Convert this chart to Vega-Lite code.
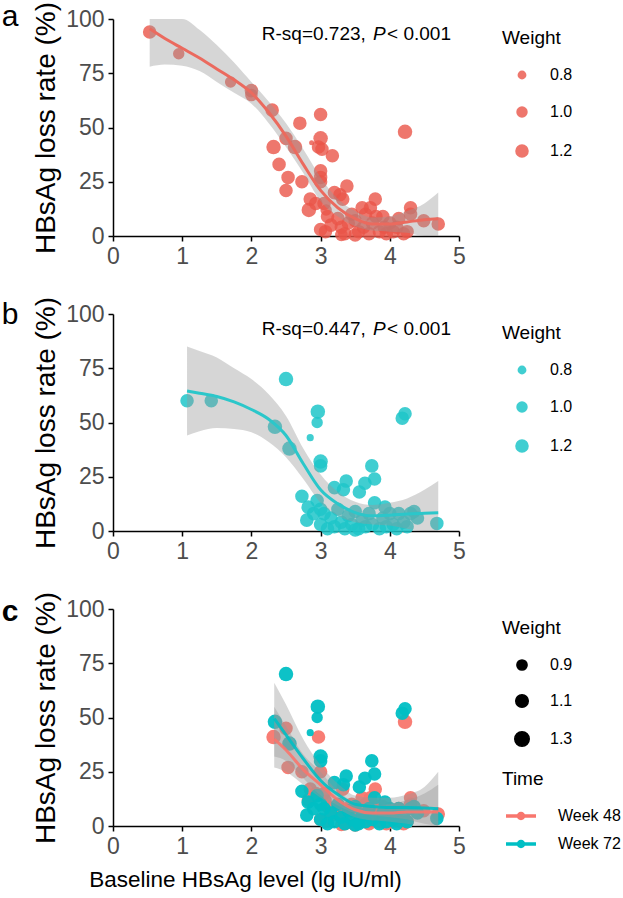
{
  "$schema": "https://vega.github.io/schema/vega-lite/v6.json",
  "background": "white",
  "padding": {"left": 1, "top": 1, "right": 5, "bottom": 5},
  "spacing": 28,
  "config": {
    "font": "Liberation Sans",
    "view": {"stroke": null},
    "axis": {"grid": false, "domainColor": "black", "domainWidth": 1.5, "tickColor": "black", "tickWidth": 1.5, "tickSize": 5, "labelFontSize": 23, "labelColor": "#4D4D4D", "labelPadding": 4, "labelFlush": false, "titleFontSize": 28, "titleFontWeight": "normal", "titleColor": "black", "titlePadding": 5},
    "legend": {"titleFontSize": 19, "titleFontWeight": "normal", "titleColor": "black", "labelFontSize": 16, "labelColor": "black", "rowPadding": 20, "titlePadding": 19, "offset": 33, "padding": 10, "symbolOffset": 12, "labelOffset": 20, "layout": {"right": {"direction": "vertical", "anchor": "start", "margin": 0}}},
    "title": {"fontSize": 30, "fontWeight": "normal", "color": "black", "anchor": "start", "frame": "bounds", "offset": 0}
  },
  "datasets": {
    "pts": [
      {"x": 0.53, "y": 94, "w": 1.2, "Time": "Week 48", "c": 0},
      {"x": 0.95, "y": 84, "w": 1.0, "Time": "Week 48", "c": 0},
      {"x": 1.7, "y": 71, "w": 1.0, "Time": "Week 48", "c": 0},
      {"x": 2.0, "y": 67, "w": 1.2, "Time": "Week 48", "c": 0},
      {"x": 2.0, "y": 65, "w": 1.1, "Time": "Week 48", "c": 0},
      {"x": 2.3, "y": 58, "w": 1.2, "Time": "Week 48", "c": 0},
      {"x": 2.32, "y": 41, "w": 1.3, "Time": "Week 48", "c": 1},
      {"x": 2.4, "y": 33, "w": 1.2, "Time": "Week 48", "c": 0},
      {"x": 2.5, "y": 45, "w": 1.2, "Time": "Week 48", "c": 1},
      {"x": 2.53, "y": 27, "w": 1.2, "Time": "Week 48", "c": 1},
      {"x": 2.5, "y": 21, "w": 1.2, "Time": "Week 48", "c": 0},
      {"x": 2.63, "y": 41, "w": 1.3, "Time": "Week 48", "c": 0},
      {"x": 2.7, "y": 52, "w": 1.2, "Time": "Week 48", "c": 0},
      {"x": 2.73, "y": 25, "w": 1.2, "Time": "Week 48", "c": 1},
      {"x": 2.87, "y": 43, "w": 0.6, "Time": "Week 48", "c": 0},
      {"x": 2.85, "y": 17, "w": 1.2, "Time": "Week 48", "c": 1},
      {"x": 2.83, "y": 12, "w": 1.3, "Time": "Week 48", "c": 1},
      {"x": 2.93, "y": 15, "w": 1.2, "Time": "Week 48", "c": 1},
      {"x": 3.0, "y": 56, "w": 1.2, "Time": "Week 48", "c": 0},
      {"x": 3.0, "y": 45, "w": 1.3, "Time": "Week 48", "c": 0},
      {"x": 2.97, "y": 41, "w": 1.2, "Time": "Week 48", "c": 1},
      {"x": 3.02, "y": 40, "w": 1.2, "Time": "Week 48", "c": 0},
      {"x": 3.0, "y": 30, "w": 1.2, "Time": "Week 48", "c": 0},
      {"x": 3.0, "y": 27, "w": 1.2, "Time": "Week 48", "c": 0},
      {"x": 3.0, "y": 25, "w": 1.2, "Time": "Week 48", "c": 1},
      {"x": 3.17, "y": 37, "w": 1.2, "Time": "Week 48", "c": 0},
      {"x": 3.38, "y": 23, "w": 1.2, "Time": "Week 48", "c": 0},
      {"x": 3.2, "y": 20, "w": 1.2, "Time": "Week 48", "c": 0},
      {"x": 3.28, "y": 19, "w": 1.2, "Time": "Week 48", "c": 0},
      {"x": 3.32, "y": 17, "w": 1.2, "Time": "Week 48", "c": 1},
      {"x": 4.22, "y": 48, "w": 1.3, "Time": "Week 48", "c": 1},
      {"x": 3.05, "y": 15, "w": 1.2, "Time": "Week 48", "c": 1},
      {"x": 3.1, "y": 9, "w": 1.2, "Time": "Week 48", "c": 1},
      {"x": 3.08, "y": 12, "w": 1.0, "Time": "Week 48", "c": 1},
      {"x": 3.0, "y": 3, "w": 1.2, "Time": "Week 48", "c": 1},
      {"x": 3.07, "y": 2, "w": 1.2, "Time": "Week 48", "c": 1},
      {"x": 3.15, "y": 5, "w": 1.2, "Time": "Week 48", "c": 1},
      {"x": 3.25, "y": 8, "w": 1.2, "Time": "Week 48", "c": 1},
      {"x": 3.3, "y": 4, "w": 1.2, "Time": "Week 48", "c": 1},
      {"x": 3.35, "y": 1, "w": 1.2, "Time": "Week 48", "c": 1},
      {"x": 3.4, "y": 6, "w": 1.2, "Time": "Week 48", "c": 1},
      {"x": 3.45, "y": 10, "w": 1.2, "Time": "Week 48", "c": 1},
      {"x": 3.5, "y": 7, "w": 1.2, "Time": "Week 48", "c": 1},
      {"x": 3.55, "y": 2, "w": 1.2, "Time": "Week 48", "c": 1},
      {"x": 3.6, "y": 13, "w": 1.2, "Time": "Week 48", "c": 1},
      {"x": 3.65, "y": 10, "w": 1.2, "Time": "Week 48", "c": 1},
      {"x": 3.62, "y": 4, "w": 1.2, "Time": "Week 48", "c": 1},
      {"x": 3.7, "y": 1, "w": 1.2, "Time": "Week 48", "c": 1},
      {"x": 3.72, "y": 13, "w": 1.2, "Time": "Week 48", "c": 1},
      {"x": 3.79, "y": 17, "w": 1.2, "Time": "Week 48", "c": 1},
      {"x": 3.75, "y": 6, "w": 1.2, "Time": "Week 48", "c": 1},
      {"x": 3.8, "y": 9, "w": 1.2, "Time": "Week 48", "c": 1},
      {"x": 3.85, "y": 2, "w": 1.2, "Time": "Week 48", "c": 1},
      {"x": 3.9, "y": 9, "w": 1.2, "Time": "Week 48", "c": 1},
      {"x": 3.92, "y": 4, "w": 1.2, "Time": "Week 48", "c": 1},
      {"x": 3.95, "y": 1, "w": 1.2, "Time": "Week 48", "c": 1},
      {"x": 4.0, "y": 6, "w": 1.2, "Time": "Week 48", "c": 1},
      {"x": 4.05, "y": 2, "w": 1.2, "Time": "Week 48", "c": 1},
      {"x": 4.1, "y": 4, "w": 1.2, "Time": "Week 48", "c": 1},
      {"x": 4.13, "y": 8, "w": 1.2, "Time": "Week 48", "c": 1},
      {"x": 4.2, "y": 1, "w": 1.2, "Time": "Week 48", "c": 1},
      {"x": 4.25, "y": 2, "w": 1.2, "Time": "Week 48", "c": 1},
      {"x": 4.3, "y": 13, "w": 1.2, "Time": "Week 48", "c": 1},
      {"x": 4.3, "y": 10, "w": 1.2, "Time": "Week 48", "c": 1},
      {"x": 4.49, "y": 7, "w": 1.2, "Time": "Week 48", "c": 1},
      {"x": 4.7, "y": 5.5, "w": 1.2, "Time": "Week 48", "c": 1},
      {"x": 3.5, "y": 0.5, "w": 1.2, "Time": "Week 48", "c": 1},
      {"x": 3.3, "y": 0.5, "w": 1.1, "Time": "Week 48", "c": 1},
      {"x": 1.07, "y": 60, "w": 1.2, "Time": "Week 72", "c": 0},
      {"x": 1.42, "y": 60, "w": 1.2, "Time": "Week 72", "c": 0},
      {"x": 2.34, "y": 48, "w": 1.3, "Time": "Week 72", "c": 1},
      {"x": 2.55, "y": 38, "w": 1.3, "Time": "Week 72", "c": 1},
      {"x": 2.5, "y": 70, "w": 1.3, "Time": "Week 72", "c": 1},
      {"x": 2.96, "y": 55, "w": 1.3, "Time": "Week 72", "c": 1},
      {"x": 2.95, "y": 50, "w": 1.0, "Time": "Week 72", "c": 1},
      {"x": 2.85, "y": 43, "w": 0.7, "Time": "Week 72", "c": 1},
      {"x": 3.0, "y": 32, "w": 1.3, "Time": "Week 72", "c": 1},
      {"x": 3.0, "y": 30, "w": 1.2, "Time": "Week 72", "c": 1},
      {"x": 2.73, "y": 16, "w": 1.2, "Time": "Week 72", "c": 1},
      {"x": 2.82, "y": 11, "w": 1.2, "Time": "Week 72", "c": 1},
      {"x": 2.8, "y": 5, "w": 1.2, "Time": "Week 72", "c": 1},
      {"x": 2.9, "y": 8, "w": 1.2, "Time": "Week 72", "c": 1},
      {"x": 2.95, "y": 14, "w": 1.2, "Time": "Week 72", "c": 1},
      {"x": 3.0, "y": 3, "w": 1.2, "Time": "Week 72", "c": 1},
      {"x": 3.05, "y": 8, "w": 1.2, "Time": "Week 72", "c": 1},
      {"x": 3.1, "y": 1, "w": 1.2, "Time": "Week 72", "c": 1},
      {"x": 3.2, "y": 20, "w": 1.2, "Time": "Week 72", "c": 1},
      {"x": 3.37, "y": 23, "w": 1.2, "Time": "Week 72", "c": 1},
      {"x": 3.33, "y": 19, "w": 1.2, "Time": "Week 72", "c": 1},
      {"x": 3.74, "y": 30, "w": 1.2, "Time": "Week 72", "c": 1},
      {"x": 3.78, "y": 24, "w": 1.2, "Time": "Week 72", "c": 1},
      {"x": 3.64, "y": 22, "w": 1.2, "Time": "Week 72", "c": 1},
      {"x": 3.56, "y": 18, "w": 1.2, "Time": "Week 72", "c": 1},
      {"x": 4.18, "y": 52, "w": 1.2, "Time": "Week 72", "c": 1},
      {"x": 4.22, "y": 54, "w": 1.2, "Time": "Week 72", "c": 1},
      {"x": 4.68, "y": 3.5, "w": 1.2, "Time": "Week 72", "c": 1},
      {"x": 4.4, "y": 6, "w": 1.2, "Time": "Week 72", "c": 1},
      {"x": 4.3, "y": 8, "w": 1.2, "Time": "Week 72", "c": 1},
      {"x": 3.78, "y": 13, "w": 1.2, "Time": "Week 72", "c": 1},
      {"x": 3.93, "y": 11, "w": 1.2, "Time": "Week 72", "c": 1},
      {"x": 4.13, "y": 8, "w": 1.2, "Time": "Week 72", "c": 1},
      {"x": 3.15, "y": 6, "w": 1.2, "Time": "Week 72", "c": 1},
      {"x": 3.2, "y": 2, "w": 1.2, "Time": "Week 72", "c": 1},
      {"x": 3.25, "y": 10, "w": 1.2, "Time": "Week 72", "c": 1},
      {"x": 3.3, "y": 4, "w": 1.2, "Time": "Week 72", "c": 1},
      {"x": 3.35, "y": 1, "w": 1.2, "Time": "Week 72", "c": 1},
      {"x": 3.4, "y": 7, "w": 1.2, "Time": "Week 72", "c": 1},
      {"x": 3.45, "y": 3, "w": 1.2, "Time": "Week 72", "c": 1},
      {"x": 3.5, "y": 9, "w": 1.2, "Time": "Week 72", "c": 1},
      {"x": 3.55, "y": 1, "w": 1.2, "Time": "Week 72", "c": 1},
      {"x": 3.6, "y": 5, "w": 1.2, "Time": "Week 72", "c": 1},
      {"x": 3.65, "y": 2, "w": 1.2, "Time": "Week 72", "c": 1},
      {"x": 3.7, "y": 8, "w": 1.2, "Time": "Week 72", "c": 1},
      {"x": 3.75, "y": 3, "w": 1.2, "Time": "Week 72", "c": 1},
      {"x": 3.85, "y": 1, "w": 1.2, "Time": "Week 72", "c": 1},
      {"x": 3.9, "y": 6, "w": 1.2, "Time": "Week 72", "c": 1},
      {"x": 3.95, "y": 2, "w": 1.2, "Time": "Week 72", "c": 1},
      {"x": 4.0, "y": 8, "w": 1.2, "Time": "Week 72", "c": 1},
      {"x": 4.05, "y": 3, "w": 1.2, "Time": "Week 72", "c": 1},
      {"x": 4.1, "y": 1, "w": 1.2, "Time": "Week 72", "c": 1},
      {"x": 4.2, "y": 4, "w": 1.2, "Time": "Week 72", "c": 1},
      {"x": 4.25, "y": 2, "w": 1.2, "Time": "Week 72", "c": 1},
      {"x": 4.35, "y": 9, "w": 1.2, "Time": "Week 72", "c": 1},
      {"x": 3.5, "y": 0.5, "w": 1.2, "Time": "Week 72", "c": 1},
      {"x": 3.0, "y": 10, "w": 1.2, "Time": "Week 72", "c": 1}
    ],
    "fit": [
      {"panel": "a", "Time": "Week 48", "x": 0.53, "fit": 95.5, "lo": 78, "hi": 100},
      {"panel": "a", "Time": "Week 48", "x": 0.75, "fit": 91, "lo": 79, "hi": 100},
      {"panel": "a", "Time": "Week 48", "x": 1.0, "fit": 86.5, "lo": 78.5, "hi": 100},
      {"panel": "a", "Time": "Week 48", "x": 1.25, "fit": 82, "lo": 76, "hi": 95},
      {"panel": "a", "Time": "Week 48", "x": 1.5, "fit": 77, "lo": 71, "hi": 88},
      {"panel": "a", "Time": "Week 48", "x": 1.75, "fit": 72, "lo": 66, "hi": 80},
      {"panel": "a", "Time": "Week 48", "x": 2.0, "fit": 66, "lo": 61, "hi": 71},
      {"panel": "a", "Time": "Week 48", "x": 2.25, "fit": 57, "lo": 52, "hi": 62},
      {"panel": "a", "Time": "Week 48", "x": 2.5, "fit": 46, "lo": 41, "hi": 52},
      {"panel": "a", "Time": "Week 48", "x": 2.75, "fit": 33, "lo": 29, "hi": 40},
      {"panel": "a", "Time": "Week 48", "x": 3.0, "fit": 21, "lo": 16, "hi": 27},
      {"panel": "a", "Time": "Week 48", "x": 3.25, "fit": 13, "lo": 9, "hi": 17},
      {"panel": "a", "Time": "Week 48", "x": 3.5, "fit": 8, "lo": 4.5, "hi": 11.5},
      {"panel": "a", "Time": "Week 48", "x": 3.75, "fit": 5.5, "lo": 2.5, "hi": 8.5},
      {"panel": "a", "Time": "Week 48", "x": 4.0, "fit": 5.5, "lo": 2, "hi": 9},
      {"panel": "a", "Time": "Week 48", "x": 4.25, "fit": 6.5, "lo": 1.5, "hi": 11.5},
      {"panel": "a", "Time": "Week 48", "x": 4.5, "fit": 7.5, "lo": 0, "hi": 15},
      {"panel": "a", "Time": "Week 48", "x": 4.7, "fit": 8, "lo": 0, "hi": 20},
      {"panel": "b", "Time": "Week 72", "x": 1.07, "fit": 64.5, "lo": 44, "hi": 85},
      {"panel": "b", "Time": "Week 72", "x": 1.25, "fit": 63.5, "lo": 46, "hi": 83},
      {"panel": "b", "Time": "Week 72", "x": 1.5, "fit": 62, "lo": 47.5, "hi": 80},
      {"panel": "b", "Time": "Week 72", "x": 1.75, "fit": 59.5, "lo": 47, "hi": 75},
      {"panel": "b", "Time": "Week 72", "x": 2.0, "fit": 56, "lo": 45.5, "hi": 70},
      {"panel": "b", "Time": "Week 72", "x": 2.25, "fit": 51.5, "lo": 41, "hi": 63},
      {"panel": "b", "Time": "Week 72", "x": 2.5, "fit": 44, "lo": 34, "hi": 53},
      {"panel": "b", "Time": "Week 72", "x": 2.75, "fit": 31, "lo": 24, "hi": 38},
      {"panel": "b", "Time": "Week 72", "x": 3.0, "fit": 19, "lo": 13, "hi": 26},
      {"panel": "b", "Time": "Week 72", "x": 3.25, "fit": 12.5, "lo": 7, "hi": 18},
      {"panel": "b", "Time": "Week 72", "x": 3.5, "fit": 8.5, "lo": 4, "hi": 13.5},
      {"panel": "b", "Time": "Week 72", "x": 3.75, "fit": 7, "lo": 3, "hi": 12},
      {"panel": "b", "Time": "Week 72", "x": 4.0, "fit": 7.3, "lo": 2.5, "hi": 13},
      {"panel": "b", "Time": "Week 72", "x": 4.25, "fit": 7.8, "lo": 1, "hi": 15},
      {"panel": "b", "Time": "Week 72", "x": 4.5, "fit": 8.2, "lo": 0, "hi": 19},
      {"panel": "b", "Time": "Week 72", "x": 4.7, "fit": 8.4, "lo": 0, "hi": 23},
      {"panel": "c", "Time": "Week 48", "x": 2.33, "fit": 40, "lo": 27, "hi": 55},
      {"panel": "c", "Time": "Week 48", "x": 2.5, "fit": 35, "lo": 25, "hi": 46},
      {"panel": "c", "Time": "Week 48", "x": 2.75, "fit": 26, "lo": 19, "hi": 33},
      {"panel": "c", "Time": "Week 48", "x": 3.0, "fit": 19, "lo": 13, "hi": 25},
      {"panel": "c", "Time": "Week 48", "x": 3.25, "fit": 12, "lo": 8, "hi": 16},
      {"panel": "c", "Time": "Week 48", "x": 3.5, "fit": 7.5, "lo": 4, "hi": 11},
      {"panel": "c", "Time": "Week 48", "x": 3.75, "fit": 6, "lo": 2.5, "hi": 9.5},
      {"panel": "c", "Time": "Week 48", "x": 4.0, "fit": 6, "lo": 2, "hi": 10},
      {"panel": "c", "Time": "Week 48", "x": 4.25, "fit": 6.5, "lo": 1, "hi": 12},
      {"panel": "c", "Time": "Week 48", "x": 4.5, "fit": 6.5, "lo": 0, "hi": 15},
      {"panel": "c", "Time": "Week 48", "x": 4.7, "fit": 6.5, "lo": 0, "hi": 19},
      {"panel": "c", "Time": "Week 72", "x": 2.33, "fit": 49.5, "lo": 32, "hi": 66},
      {"panel": "c", "Time": "Week 72", "x": 2.5, "fit": 42, "lo": 30, "hi": 56},
      {"panel": "c", "Time": "Week 72", "x": 2.75, "fit": 31, "lo": 22, "hi": 40},
      {"panel": "c", "Time": "Week 72", "x": 3.0, "fit": 21, "lo": 14, "hi": 28},
      {"panel": "c", "Time": "Week 72", "x": 3.25, "fit": 14.5, "lo": 9.5, "hi": 19.5},
      {"panel": "c", "Time": "Week 72", "x": 3.5, "fit": 10, "lo": 6, "hi": 14},
      {"panel": "c", "Time": "Week 72", "x": 3.75, "fit": 9, "lo": 5, "hi": 13},
      {"panel": "c", "Time": "Week 72", "x": 4.0, "fit": 8.5, "lo": 4, "hi": 13},
      {"panel": "c", "Time": "Week 72", "x": 4.25, "fit": 8.5, "lo": 3, "hi": 14.5},
      {"panel": "c", "Time": "Week 72", "x": 4.5, "fit": 8.3, "lo": 1, "hi": 18},
      {"panel": "c", "Time": "Week 72", "x": 4.7, "fit": 8, "lo": 0, "hi": 25}
    ]
  },
  "resolve": {
    "scale": {"x": "independent", "y": "independent", "size": "independent", "fill": "independent", "stroke": "independent"},
    "legend": {"size": "independent", "fill": "independent"}
  },
  "vconcat": [
    {
      "width": 346, "height": 217,
      "title": {"text": "a", "dx": -31, "dy": 35},
      "layer": [
        {
          "data": {"name": "pts"},
          "transform": [{"filter": "datum.Time === 'Week 48'"}],
          "mark": {"type": "circle", "color": "#EA5548", "opacity": 0.8},
          "encoding": {
            "x": {"field": "x", "type": "quantitative", "title": null, "scale": {"domain": [0, 5], "nice": false}, "axis": {"values": [0, 1, 2, 3, 4, 5], "format": "d"}},
            "y": {"field": "y", "type": "quantitative", "title": "HBsAg loss rate (%)", "scale": {"domain": [0, 100], "nice": false}, "axis": {"values": [0, 25, 50, 75, 100], "format": "d"}},
            "size": {"field": "w", "type": "quantitative", "scale": {"domain": [0.6, 1.3], "range": [25, 210]}, "legend": {"title": "Weight", "values": [0.8, 1.0, 1.2], "format": ".1f"}}
          }
        },
        {
          "data": {"name": "fit"},
          "transform": [{"filter": "datum.panel === 'a'"}],
          "mark": {"type": "area", "color": "#999999", "opacity": 0.4, "interpolate": "monotone"},
          "encoding": {
            "x": {"field": "x", "type": "quantitative", "title": null},
            "y": {"field": "lo", "type": "quantitative", "title": "HBsAg loss rate (%)"},
            "y2": {"field": "hi"}
          }
        },
        {
          "data": {"name": "fit"},
          "transform": [{"filter": "datum.panel === 'a'"}],
          "mark": {"type": "line", "color": "#EB6A5E", "strokeWidth": 3, "interpolate": "monotone"},
          "encoding": {
            "x": {"field": "x", "type": "quantitative", "title": null},
            "y": {"field": "fit", "type": "quantitative", "title": "HBsAg loss rate (%)"}
          }
        },
        {
          "data": {"values": [{}]},
          "mark": {"type": "text", "text": "R-sq=0.723,", "fontSize": 19, "align": "left", "baseline": "middle", "color": "black"},
          "encoding": {"x": {"datum": 2.15}, "y": {"datum": 93}}
        },
        {
          "data": {"values": [{}]},
          "mark": {"type": "text", "text": "P", "fontSize": 19, "fontStyle": "italic", "align": "left", "baseline": "middle", "color": "black"},
          "encoding": {"x": {"datum": 3.757}, "y": {"datum": 93}}
        },
        {
          "data": {"values": [{}]},
          "mark": {"type": "text", "text": "< 0.001", "fontSize": 19, "align": "left", "baseline": "middle", "color": "black"},
          "encoding": {"x": {"datum": 3.96}, "y": {"datum": 93}}
        }
      ]
    },
    {
      "width": 346, "height": 217,
      "title": {"text": "b", "dx": -31, "dy": 38},
      "layer": [
        {
          "data": {"name": "pts"},
          "transform": [{"filter": "datum.Time === 'Week 72'"}],
          "mark": {"type": "circle", "color": "#1FC6C9", "opacity": 0.85},
          "encoding": {
            "x": {"field": "x", "type": "quantitative", "title": null, "scale": {"domain": [0, 5], "nice": false}, "axis": {"values": [0, 1, 2, 3, 4, 5], "format": "d"}},
            "y": {"field": "y", "type": "quantitative", "title": "HBsAg loss rate (%)", "scale": {"domain": [0, 100], "nice": false}, "axis": {"values": [0, 25, 50, 75, 100], "format": "d"}},
            "size": {"field": "w", "type": "quantitative", "scale": {"domain": [0.6, 1.3], "range": [25, 210]}, "legend": {"title": "Weight", "values": [0.8, 1.0, 1.2], "format": ".1f"}}
          }
        },
        {
          "data": {"name": "fit"},
          "transform": [{"filter": "datum.panel === 'b'"}],
          "mark": {"type": "area", "color": "#999999", "opacity": 0.4, "interpolate": "monotone"},
          "encoding": {
            "x": {"field": "x", "type": "quantitative", "title": null},
            "y": {"field": "lo", "type": "quantitative", "title": "HBsAg loss rate (%)"},
            "y2": {"field": "hi"}
          }
        },
        {
          "data": {"name": "fit"},
          "transform": [{"filter": "datum.panel === 'b'"}],
          "mark": {"type": "line", "color": "#2BC7CA", "strokeWidth": 3, "interpolate": "monotone"},
          "encoding": {
            "x": {"field": "x", "type": "quantitative", "title": null},
            "y": {"field": "fit", "type": "quantitative", "title": "HBsAg loss rate (%)"}
          }
        },
        {
          "data": {"values": [{}]},
          "mark": {"type": "text", "text": "R-sq=0.447,", "fontSize": 19, "align": "left", "baseline": "middle", "color": "black"},
          "encoding": {"x": {"datum": 2.15}, "y": {"datum": 93}}
        },
        {
          "data": {"values": [{}]},
          "mark": {"type": "text", "text": "P", "fontSize": 19, "fontStyle": "italic", "align": "left", "baseline": "middle", "color": "black"},
          "encoding": {"x": {"datum": 3.757}, "y": {"datum": 93}}
        },
        {
          "data": {"values": [{}]},
          "mark": {"type": "text", "text": "< 0.001", "fontSize": 19, "align": "left", "baseline": "middle", "color": "black"},
          "encoding": {"x": {"datum": 3.96}, "y": {"datum": 93}}
        }
      ]
    },
    {
      "width": 346, "height": 217,
      "title": {"text": "c", "dx": -31, "dy": 40, "fontWeight": "bold"},
      "layer": [
        {
          "data": {"name": "pts"},
          "transform": [{"filter": "datum.c === 1"}],
          "mark": {"type": "circle", "opacity": 0.95},
          "encoding": {
            "x": {"field": "x", "type": "quantitative", "title": "Baseline HBsAg level (lg IU/ml)", "scale": {"domain": [0, 5], "nice": false}, "axis": {"values": [0, 1, 2, 3, 4, 5], "format": "d", "titleFontSize": 22.5, "titlePadding": 10, "titleX": 132}},
            "y": {"field": "y", "type": "quantitative", "title": "HBsAg loss rate (%)", "scale": {"domain": [0, 100], "nice": false}, "axis": {"values": [0, 25, 50, 75, 100], "format": "d"}},
            "size": {"field": "w", "type": "quantitative", "scale": {"domain": [0.6, 1.3], "range": [25, 210]}, "legend": {"title": "Weight", "values": [0.9, 1.1, 1.3], "format": ".1f", "symbolFillColor": "black", "symbolStrokeColor": "black", "symbolOpacity": 1, "rowPadding": 17}},
            "fill": {"field": "Time", "type": "nominal", "scale": {"domain": ["Week 48", "Week 72"], "range": ["#F8766D", "#00BFC4"]}, "legend": {"title": "Time", "symbolType": "M-1,-0.12H1V0.12H-1Z M-0.28,0A0.28,0.28 0 1,1 0.28,0A0.28,0.28 0 1,1 -0.28,0Z", "symbolSize": 900, "symbolStrokeWidth": 0, "symbolOpacity": 1, "symbolOffset": 4, "labelOffset": 22, "rowPadding": 5, "titlePadding": 12}}
          }
        },
        {
          "data": {"name": "fit"},
          "transform": [{"filter": "datum.panel === 'c'"}],
          "mark": {"type": "area", "color": "#999999", "opacity": 0.4, "interpolate": "monotone"},
          "encoding": {
            "x": {"field": "x", "type": "quantitative", "title": "Baseline HBsAg level (lg IU/ml)"},
            "y": {"field": "lo", "type": "quantitative", "title": "HBsAg loss rate (%)"},
            "y2": {"field": "hi"},
            "detail": {"field": "Time", "type": "nominal"}
          }
        },
        {
          "data": {"name": "fit"},
          "transform": [{"filter": "datum.panel === 'c'"}],
          "mark": {"type": "line", "strokeWidth": 3, "interpolate": "monotone", "opacity": 0.9},
          "encoding": {
            "x": {"field": "x", "type": "quantitative", "title": "Baseline HBsAg level (lg IU/ml)"},
            "y": {"field": "fit", "type": "quantitative", "title": "HBsAg loss rate (%)"},
            "stroke": {"field": "Time", "type": "nominal", "scale": {"domain": ["Week 48", "Week 72"], "range": ["#F8766D", "#00BFC4"]}, "legend": null}
          }
        }
      ]
    }
  ]
}
